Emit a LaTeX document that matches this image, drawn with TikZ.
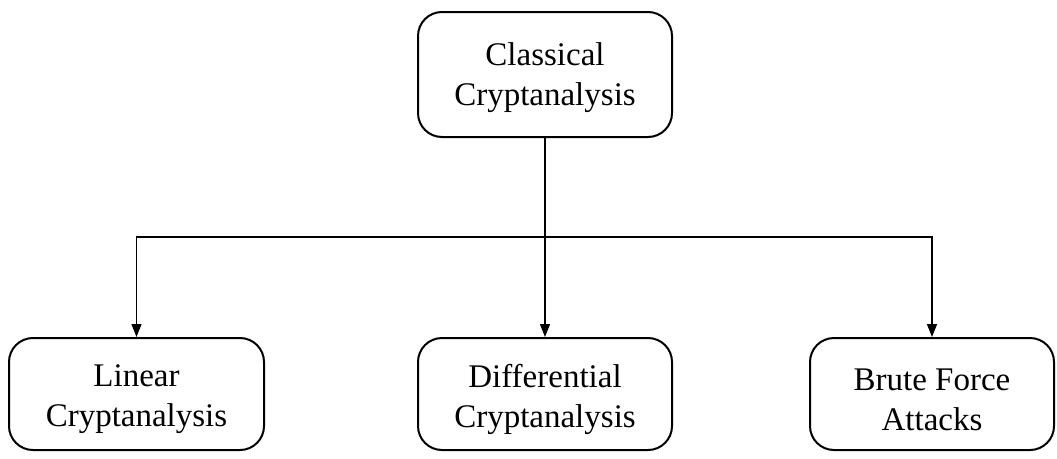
\documentclass[tikz,border=0pt]{standalone}
\usepackage{fontspec}
\setmainfont{Liberation Serif}
\usetikzlibrary{arrows.meta}
\begin{document}
\begin{tikzpicture}[x=1pt,y=-1pt,
  box/.style={draw, line width=2pt, rounded corners=24pt, inner sep=0pt},
  topbox/.style={box, minimum width=254pt, minimum height=125pt},
  leafbox/.style={box, minimum height=112pt},
  lbl/.style={align=center, inner sep=0pt, font=\fontsize{33}{40}\selectfont},
  link/.style={line width=1.4pt},
  arr/.style={link, -{Triangle[width=10pt,length=13pt]}}]
\useasboundingbox (0,0) rectangle (1057,458);
% root of the tree
\node[topbox] (root) at (545,74.5) {};
\node[lbl] (rootlbl) at ([yshift=-3pt]root.center) {Classical\\Cryptanalysis};
% the three leaves
\node[leafbox, minimum width=255pt] (lin) at (136.5,394) {};
\node[leafbox, minimum width=254pt] (diff) at (545,394) {};
\node[leafbox, minimum width=244pt] (brute) at (932,394) {};
\node[lbl] (linlbl) at ([yshift=-5pt]lin.center) {Linear\\Cryptanalysis};
\node[lbl] (difflbl) at ([yshift=-5pt]diff.center) {Differential\\Cryptanalysis};
\node[lbl] (brutelbl) at ([yshift=-6pt]brute.center) {Brute Force\\Attacks};
% horizontal bus level
\coordinate (bus) at (0,237);
\draw[arr] (root.south) -- (diff.north);
\draw[arr] (root.south |- bus) -| (lin.north);
\draw[arr] (root.south |- bus) -| (brute.north);
\end{tikzpicture}
\end{document}
